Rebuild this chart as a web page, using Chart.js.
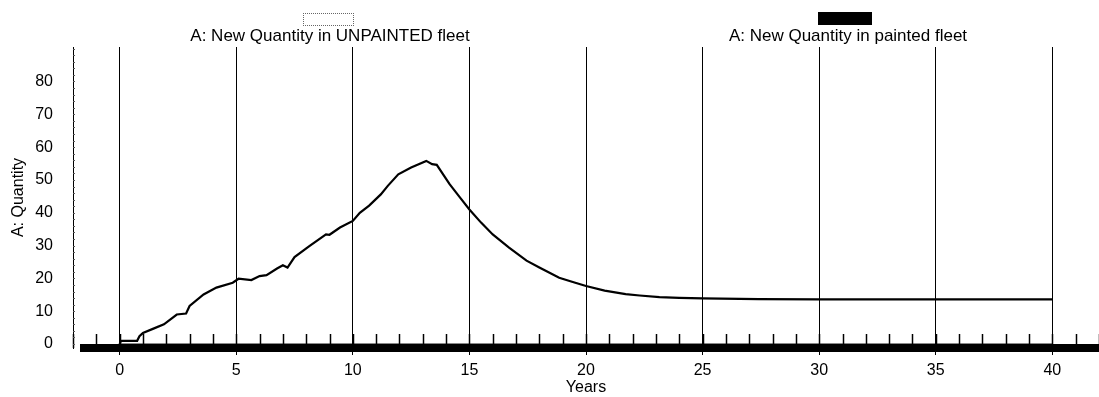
<!DOCTYPE html>
<html>
<head>
<meta charset="utf-8">
<script src="https://cdn.jsdelivr.net/npm/chart.js@4"></script>
<style>
  body { margin: 0; background: #fff; font-family: "Liberation Sans", Arial, sans-serif; }
  #wrap { position: relative; width: 1099px; height: 397px; }
  #legend .box { position: absolute; height: 13px; box-sizing: border-box; }
  #legend .txt { position: absolute; top: 27px; white-space: nowrap; font-size: 17px; line-height: 17px; color: #000; }
</style>
</head>
<body>
<div id="wrap">
  <canvas id="ch" width="1099" height="397"></canvas>
  <div id="legend"></div>
</div>
<script>
// unpainted fleet (years, quantity)
const unpaintedYears = [0, 0.05, 0.75, 0.85, 1.0, 1.45, 1.9, 2.45, 2.85, 3.0, 3.6, 4.15, 4.85, 5.1, 5.65, 6.0, 6.3, 6.75, 7.0, 7.2, 7.5, 8.15, 8.85, 9.0, 9.45, 10.0, 10.3, 10.7, 11.2, 11.5, 11.95, 12.5, 13.15, 13.4, 13.6, 14.15, 14.6, 15.0, 15.5, 16.0, 16.7, 17.45, 18.0, 18.85, 19.4, 20.0, 20.8, 21.7, 22.3, 23.15, 24.0, 25.0, 27.4, 30, 35, 40];
const unpaintedQty   = [0, 1, 1, 2.4, 3.4, 4.7, 6.0, 9.0, 9.3, 11.6, 15.1, 17.2, 18.7, 19.9, 19.5, 20.7, 21.0, 23.0, 24.0, 23.3, 26.5, 29.9, 33.4, 33.3, 35.5, 37.5, 40.0, 42.2, 45.6, 48.2, 51.7, 53.8, 55.8, 54.8, 54.6, 48.7, 44.6, 41.0, 37.0, 33.4, 29.4, 25.4, 23.3, 20.2, 19.0, 17.7, 16.3, 15.2, 14.8, 14.3, 14.1, 13.9, 13.7, 13.6, 13.6, 13.6];
// painted fleet stays at zero
const paintedYears = [0, 40];
const paintedQty   = [0, 0];

const xLabels = [0, 5, 10, 15, 20, 25, 30, 35, 40];
const yLabels = [0, 10, 20, 30, 40, 50, 60, 70, 80];
const seriesNames = ['A: New Quantity in UNPAINTED fleet', 'A: New Quantity in painted fleet'];

const pts = (xs, ys) => xs.map((x, i) => ({ x, y: ys[i] }));

// small year ticks, left axis ticks and the heavy base bar
const decor = {
  id: 'decor',
  beforeDatasetsDraw(chart) {
    const { ctx, chartArea: a, scales: { x, y } } = chart;
    ctx.save();
    ctx.strokeStyle = '#000';
    ctx.lineWidth = 1.5;
    for (let v = Math.ceil(x.min); v <= x.max; v++) {
      const px = Math.round(x.getPixelForValue(v)) + 0.5;
      ctx.beginPath(); ctx.moveTo(px, a.bottom); ctx.lineTo(px, a.bottom - 14); ctx.stroke();
    }
    ctx.lineWidth = 1;
    ctx.strokeStyle = '#555';
    for (let v = 0; v <= y.max; v += 2) {
      const py = Math.round(y.getPixelForValue(v)) + 0.5;
      ctx.beginPath(); ctx.moveTo(a.left, py); ctx.lineTo(a.left + 2, py); ctx.stroke();
    }
    ctx.restore();
  },
  afterDatasetsDraw(chart) {
    const { ctx, chartArea: a, scales: { x } } = chart;
    const x0 = x.getPixelForValue(-1.7);
    ctx.save();
    ctx.fillStyle = '#000';
    ctx.fillRect(x0, a.bottom - 4, a.right - x0, 8);
    ctx.restore();
  }
};

const font = { family: '"Liberation Sans", Arial, sans-serif', size: 16 };

const chart = new Chart(document.getElementById('ch'), {
  type: 'line',
  data: {
    datasets: [
      { label: seriesNames[0], data: pts(unpaintedYears, unpaintedQty), borderColor: '#000', borderWidth: 2.2, pointRadius: 0, tension: 0, fill: false },
      { label: seriesNames[1], data: pts(paintedYears, paintedQty), borderColor: '#000', backgroundColor: '#000', borderWidth: 1, pointRadius: 0, fill: false }
    ]
  },
  options: {
    responsive: false,
    animation: false,
    layout: { padding: { top: 47, left: 0, right: 0, bottom: 0 } },
    plugins: { legend: { display: false }, tooltip: { enabled: false } },
    scales: {
      x: {
        type: 'linear', min: -2, max: 42,
        afterBuildTicks: s => { s.ticks = xLabels.map(v => ({ value: v })); },
        afterFit: s => { s.height = 49; },
        grid: { color: '#000', lineWidth: 1, drawTicks: true, tickLength: 7, tickColor: '#000' },
        border: { display: false },
        ticks: { color: '#000', font, padding: 6, maxRotation: 0 },
        title: { display: true, text: 'Years', color: '#000', font, padding: { top: 0, bottom: 0 } }
      },
      y: {
        min: -1.2, max: 90.5,
        afterBuildTicks: s => { s.ticks = yLabels.map(v => ({ value: v })); },
        afterFit: s => { s.width = 73; },
        grid: { display: false, drawTicks: false },
        border: { display: true, color: '#000', width: 1 },
        ticks: { color: '#000', font, padding: 20 },
        title: { display: true, text: 'A: Quantity', color: '#000', font, padding: { top: 9, bottom: 0 } }
      }
    }
  },
  plugins: [decor]
});

// legend: box above each name
function renderLegend() {
  const spots = [
    { cx: 330, bx: 303, bw: 51, bt: 13, style: 'border:1px dotted #666;background:#fff' },
    { cx: 848, bx: 818, bw: 54, bt: 12, style: 'background:#000' }
  ];
  document.getElementById('legend').innerHTML = chart.data.datasets.map((d, i) => {
    const s = spots[i];
    return `<div class="box" style="left:${s.bx}px;top:${s.bt}px;width:${s.bw}px;${s.style}"></div>
      <div class="txt" style="left:${s.cx}px;transform:translateX(-50%)">${d.label}</div>`;
  }).join('');
}
renderLegend();
</script>
</body>
</html>
